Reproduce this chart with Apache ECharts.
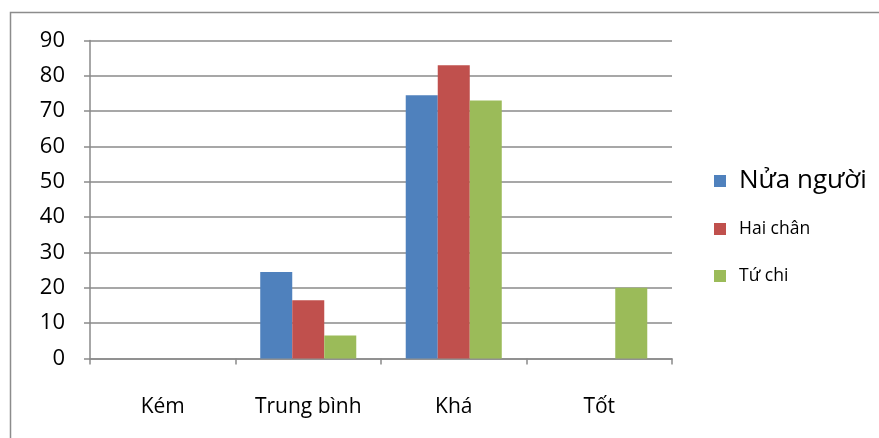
<!DOCTYPE html>
<html>
<head>
<meta charset="utf-8">
<script src="https://cdn.jsdelivr.net/npm/echarts@6/dist/echarts.min.js"></script>
<style>
  html, body { margin: 0; padding: 0; background: #fff; }
  #chart { width: 879px; height: 438px; }
</style>
</head>
<body>
<div id="chart"></div>
<script>
// Ratings per category for each group
const categories = ['Kém', 'Trung bình', 'Khá', 'Tốt'];
const nuaNguoi = [0, 24.5, 74.5, 0];
const haiChan = [0, 16.5, 83, 0];
const tuChi = [0, 6.5, 73, 20];
const yTicks = { min: 0, max: 90, interval: 10 };

const seriesNames = ['Nửa người', 'Hai chân', 'Tứ chi'];
const colors = ['#4F81BD', '#C0504D', '#9BBB59'];
const FONT = '"Open Sans", "Noto Sans", sans-serif';
const gridColor = '#8a8a8a';

const chart = echarts.init(document.getElementById('chart'));

function legendFor(name, top, size) {
  return {
    data: [name],
    left: 714,
    top: top,
    padding: 0,
    itemWidth: 12,
    itemHeight: 12,
    icon: 'rect',
    itemGap: 0,
    textStyle: { fontFamily: FONT, fontSize: size, color: '#000', padding: [0, 0, 0, 8] },
    selectedMode: false
  };
}

chart.setOption({
  animation: false,
  color: colors,
  graphic: [{
    type: 'rect',
    shape: { x: 10.5, y: 12.5, width: 900, height: 500 },
    style: { fill: 'none', stroke: '#8c8c8c', lineWidth: 1.5 },
    silent: true,
    z: -1
  }],
  legend: [
    legendFor(seriesNames[0], 168, 26),
    legendFor(seriesNames[1], 220, 17.5),
    legendFor(seriesNames[2], 267, 17.5)
  ],
  grid: { left: 90, right: 207, top: 40.5, bottom: 79.5, containLabel: false },
  xAxis: {
    type: 'category',
    data: categories,
    axisLine: { lineStyle: { color: gridColor, width: 1.5 } },
    axisTick: { show: true, length: 6, lineStyle: { color: gridColor, width: 1.5 } },
    axisLabel: { fontFamily: FONT, fontSize: 21, color: '#000', margin: 38 },
    splitLine: { show: false }
  },
  yAxis: {
    type: 'value',
    min: yTicks.min,
    max: yTicks.max,
    interval: yTicks.interval,
    axisLine: { show: true, lineStyle: { color: gridColor, width: 1.5 } },
    axisTick: { show: true, length: 6, lineStyle: { color: gridColor, width: 1.5 } },
    axisLabel: { fontFamily: FONT, fontSize: 22, color: '#000', margin: 25 },
    splitLine: { show: true, lineStyle: { color: gridColor, width: 1.5 } }
  },
  series: [
    { name: seriesNames[0], type: 'bar', data: nuaNguoi, barGap: '0%', barCategoryGap: '34%' },
    { name: seriesNames[1], type: 'bar', data: haiChan, barGap: '0%', barCategoryGap: '34%' },
    { name: seriesNames[2], type: 'bar', data: tuChi, barGap: '0%', barCategoryGap: '34%' }
  ]
});
</script>
</body>
</html>
